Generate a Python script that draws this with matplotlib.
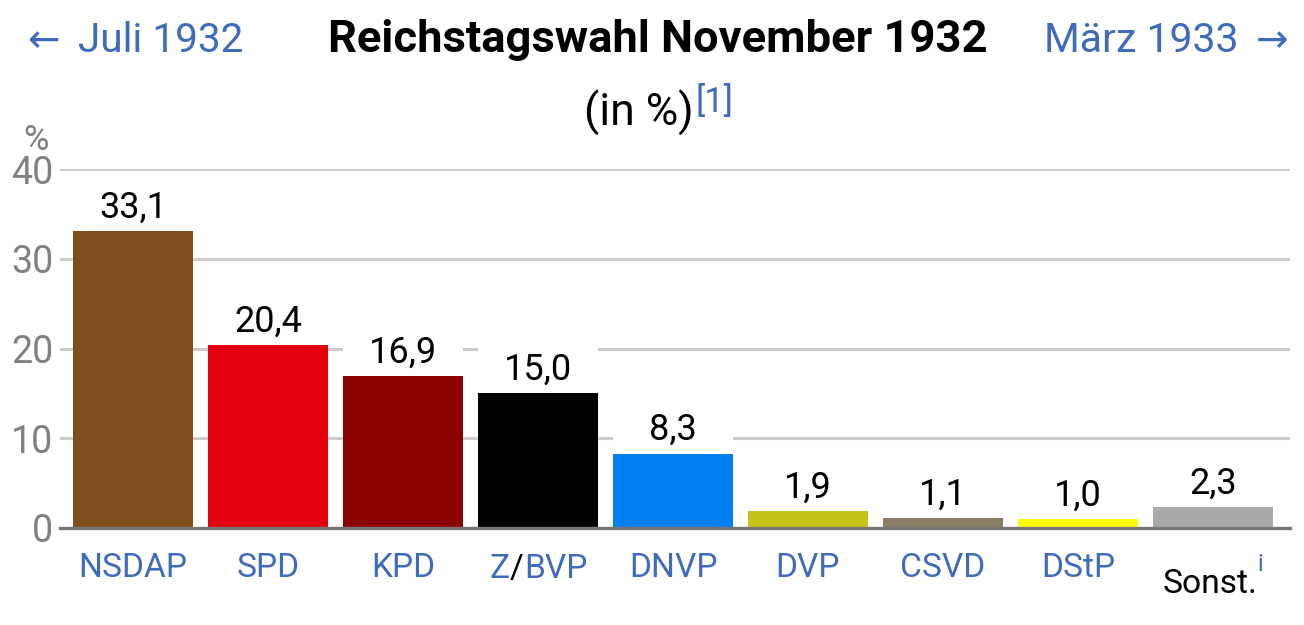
import matplotlib
matplotlib.use('Agg')
import matplotlib.pyplot as plt

plt.rcParams['font.family'] = ['Roboto', 'DejaVu Sans']

parties = ['NSDAP', 'SPD', 'KPD', 'Z/BVP', 'DNVP', 'DVP', 'CSVD', 'DStP', 'Sonst.']
votes = [33.1, 20.4, 16.9, 15.0, 8.3, 1.9, 1.1, 1.0, 2.3]
vote_labels = ['33,1', '20,4', '16,9', '15,0', '8,3', '1,9', '1,1', '1,0', '2,3']
colors = ['#7f4e1a', '#e3000f', '#8b0000', '#000000', '#0080f0',
          '#c5c318', '#8b7d65', '#ffff00', '#a9a9a9']
y_ticks = [0, 10, 20, 30, 40]

LINK = '#3f6bbf'
GREY = '#808080'
W, H = 1304, 625

fig = plt.figure(figsize=(W / 100, H / 100), dpi=100)
ax = fig.add_axes([60 / W, 1 - 528 / H, (1290 - 60) / W, (528 - 169) / H])


def px_text(x, y, s, **kw):
    # place text by pixel position in the figure
    return fig.text(x / W, 1 - y / H, s, **kw)


x = list(range(len(parties)))
# bars have a white strip above them which cuts the grid behind the labels
ax.bar(x, [5.3] * len(x), bottom=votes, width=120 / 135, color='white', zorder=2)
ax.bar(x, votes, width=120 / 135, color=colors, zorder=3)

ax.set_xlim(-(133 - 60) / 135, (1290 - 133) / 135)
ax.set_ylim(0, 40)
ax.set_yticks(y_ticks)
ax.set_yticklabels([str(t) for t in y_ticks], fontsize=27, color=GREY)
ax.tick_params(axis='y', length=0, pad=5)
ax.grid(axis='y', color='#cccccc', linewidth=2.2, zorder=1)
ax.set_axisbelow(True)
for side in ['top', 'right', 'left']:
    ax.spines[side].set_visible(False)
ax.spines['bottom'].set_color('#777777')
ax.spines['bottom'].set_linewidth(2.4)
ax.spines['bottom'].set_zorder(4)

# value labels
for i in x:
    ax.annotate(vote_labels[i], (i, votes[i]), xytext=(0, 4), textcoords='offset points',
                ha='center', va='bottom', fontsize=26, color='black', zorder=5)

# party names, Z/BVP and Sonst. are different so they go by hand
ax.set_xticks(x)
ax.set_xticklabels(['' if p in ('Z/BVP', 'Sonst.') else p for p in parties],
                   fontsize=24.2, color=LINK)
ax.tick_params(axis='x', length=0, pad=17)
px_text(490, 578, 'Z', fontsize=24.2, color=LINK, ha='left', va='baseline')
px_text(510, 578, '/', fontsize=24.2, color='black', ha='left', va='baseline')
px_text(524, 578, 'BVP', fontsize=24.2, color=LINK, ha='left', va='baseline')
px_text(1163, 593, 'Sonst.', fontsize=24.2, color='black', ha='left', va='baseline')
px_text(1257, 571, 'i', fontsize=17, color=LINK, ha='left', va='baseline')

# header
px_text(36, 150, '%', fontsize=25, color=GREY, ha='center', va='baseline')
px_text(658, 52, 'Reichstagswahl November 1932', fontsize=32.7, fontweight='bold',
        color='black', ha='center', va='baseline')
px_text(27, 52, '←', fontsize=28, color=LINK, ha='left', va='baseline')
px_text(78, 52, 'Juli 1932', fontsize=29.2, color=LINK, ha='left', va='baseline')
px_text(1044, 52, 'März 1933', fontsize=29.5, color=LINK, ha='left', va='baseline')
px_text(1288, 52, '→', fontsize=28, color=LINK, ha='right', va='baseline')
px_text(584, 126, '(in %)', fontsize=32, color='black', ha='left', va='baseline')
px_text(696, 112, '[1]', fontsize=25, color=LINK, ha='left', va='baseline')

fig.savefig('out.png', dpi=100)
